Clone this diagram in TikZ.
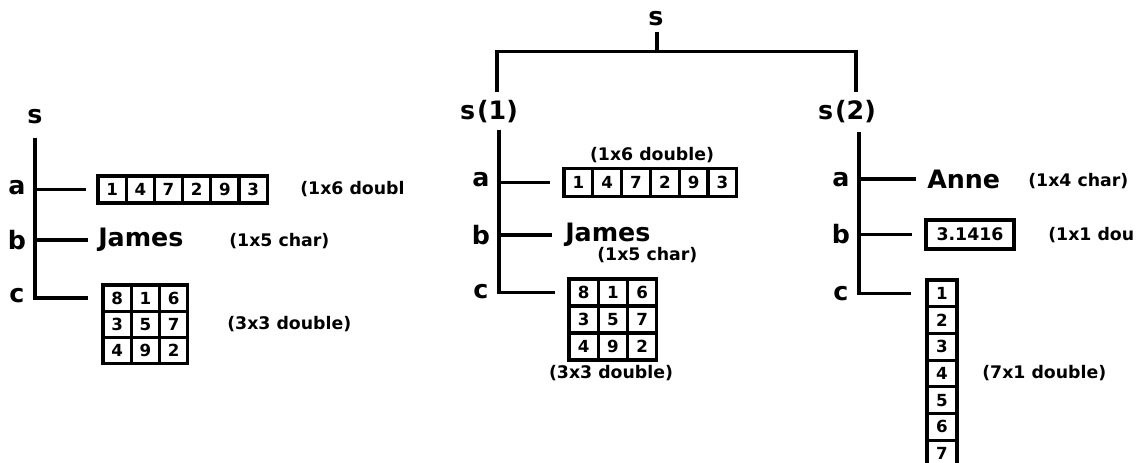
\documentclass[tikz,border=0pt]{standalone}
\usepackage{fontspec}
\setmainfont{DejaVu Sans}
\usetikzlibrary{calc}
\begin{document}
\begin{tikzpicture}[x=0.75pt,y=-0.75pt,
  lbl/.style={font=\fontsize{19}{22}\selectfont\bfseries, inner sep=0pt},
  big/.style={font=\fontsize{19}{22}\selectfont\bfseries, inner sep=0pt, anchor=west},
  note/.style={font=\fontsize{13}{15}\selectfont\bfseries, inner sep=0pt},
  cell/.style={draw, line width=2.3pt, inner sep=0pt, font=\fontsize{12.5}{14}\selectfont\bfseries},
  branch/.style={line width=2.5pt}]
\useasboundingbox (0,0) rectangle (1143,463);

% ---------------- left tree ----------------
\node[lbl] (L) at (35,117) {s};
\node[lbl] (La) at (17,188) {a};
\node[lbl] (Lb) at (17,240) {b};
\node[lbl] (Lc) at (17,296) {c};
\foreach \v [count=\i] in {1,4,7,2,9,3}
  \node[cell, minimum width=21.15pt, minimum height=20.25pt] (La\i) at ({98+28.2*(\i-0.5)},189.5) {\v};
\node[note, anchor=west] (Lan) at (300,189) {(1x6 doubl};
\node[big] (LJ) at (98,240) {James};
\node[note, anchor=west] (Lbn) at (229,241) {(1x5 char)};
\foreach \r/\c/\v in {1/1/8,1/2/1,1/3/6,2/1/3,2/2/5,2/3/7,3/1/4,3/2/9,3/3/2}
  \node[cell, minimum width=21.2pt, minimum height=19.7pt] (Lc\r\c) at ({103+28.3*(\c-0.5)},{285+26.3*(\r-0.5)}) {\v};
\node[note, anchor=west] (Lcn) at (227,324) {(3x3 double)};
\coordinate (T0) at ($(L.south)+(0,13)$);
\draw[branch] (T0) |- ($(Lc11.west)+(-13,0)$);
\draw[branch] (T0 |- La1.west) -- ($(La1.west)+(-10,0)$);
\draw[branch] (T0 |- LJ.west) -- ($(LJ.west)+(-10,0)$);

% ---------------- right picture: root ----------------
\node[lbl] (S) at (656,19) {s};
\node[lbl] (S1) at (489,112) {s\kern1.5pt(1)};
\node[lbl] (S2) at (847,112) {s\kern1.5pt(2)};
\coordinate (J) at ($(S.south)+(1,25)$);
\draw[branch] ($(S.south)+(1,5)$) -- (J);
\draw[branch] ($(S1.north)+(8,-8)$) |- (J) -| ($(S2.north)+(9,-8)$);

% ---------------- s(1) ----------------
\node[lbl] (Ma) at (481,180) {a};
\node[lbl] (Mb) at (481,235) {b};
\node[lbl] (Mc) at (481,292) {c};
\node[note] (Man) at (652,155) {(1x6 double)};
\foreach \v [count=\i] in {1,4,7,2,9,3}
  \node[cell, minimum width=21.6pt, minimum height=21pt] (Ma\i) at ({564+28.8*(\i-0.5)},182.5) {\v};
\node[big] (MJ) at (565,235) {James};
\node[note, anchor=west] (Mbn) at (597,255) {(1x5 char)};
\foreach \r/\c/\v in {1/1/8,1/2/1,1/3/6,2/1/3,2/2/5,2/3/7,3/1/4,3/2/9,3/3/2}
  \node[cell, minimum width=22pt, minimum height=20.25pt] (Mc\r\c) at ({569+29.3*(\c-0.5)},{279+27*(\r-0.5)}) {\v};
\node[note] (Mcn) at (611,373) {(3x3 double)};
\coordinate (T1) at ($(S1.south)+(10,6)$);
\draw[branch] (T1) |- ($(Mc11.west)+(-12,0)$);
\draw[branch] (T1 |- Ma1.west) -- ($(Ma1.west)+(-12,0)$);
\draw[branch] (T1 |- MJ.west) -- ($(MJ.west)+(-13,0)$);

% ---------------- s(2) ----------------
\node[lbl] (Ra) at (841,180) {a};
\node[lbl] (Rb) at (841,234) {b};
\node[lbl] (Rc) at (841,294) {c};
\node[big] (RA) at (927,179) {Anne};
\node[note, anchor=west] (Ran) at (1028,181) {(1x4 char)};
\node[cell, minimum width=66pt, minimum height=21.75pt, font=\fontsize{13}{15}\selectfont\bfseries] (Rb1) at (970,234.5) {3.1416};
\node[note, anchor=west] (Rbn) at (1048,235) {(1x1 dou};
\foreach \v in {1,...,7}
  \node[cell, minimum width=22.5pt, minimum height=20pt] (Rc\v) at (942,{280+26.7*(\v-0.5)}) {\v};
\node[note, anchor=west] (Rcn) at (982,373) {(7x1 double)};
\coordinate (T2) at ($(S2.south)+(12,8)$);
\draw[branch] (T2) |- ($(Rc1.west)+(-14,0)$);
\draw[branch] (T2 |- RA.west) -- ($(RA.west)+(-11,0)$);
\draw[branch] (T2 |- Rb1.west) -- ($(Rb1.west)+(-12,0)$);
\end{tikzpicture}
\end{document}
